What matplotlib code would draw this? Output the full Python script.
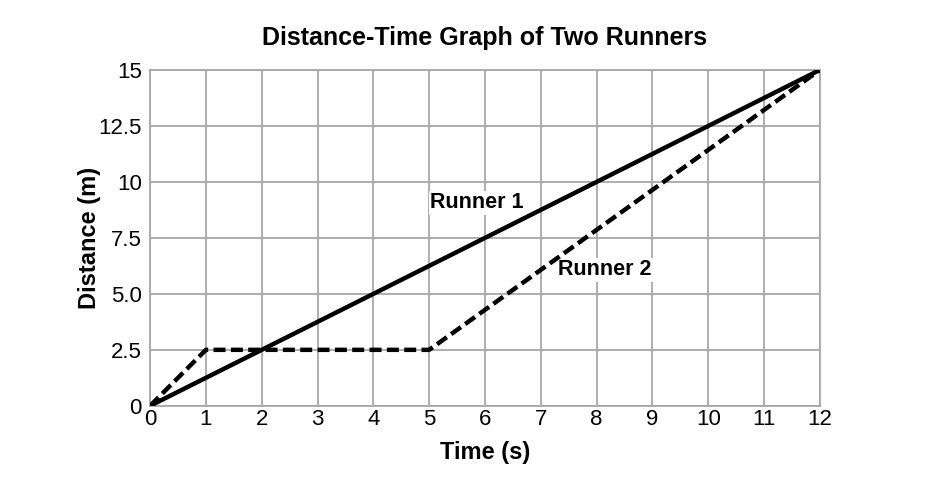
import matplotlib.pyplot as plt

plt.rcParams["font.family"] = ["Liberation Sans", "DejaVu Sans"]

# data
runner1_t = [0, 12]
runner1_d = [0, 15]
runner2_t = [0, 1, 5, 12]
runner2_d = [0, 2.5, 2.5, 15]

x_ticks = list(range(0, 13))
y_ticks = [0, 2.5, 5, 7.5, 10, 12.5, 15]
y_labels = ["0", "2.5", "5.0", "7.5", "10", "12.5", "15"]

fig = plt.figure(figsize=(9.5, 4.86), dpi=100)
ax = fig.add_axes([0.158, 0.165, 0.705, 0.691])

ax.plot(runner1_t, runner1_d, color="black", lw=3.2, solid_capstyle="round", zorder=3)
ax.plot(runner2_t, runner2_d, color="black", lw=3.2, ls=(0, (2.7, 1.2)), zorder=3)

ax.set_xlim(0, 12)
ax.set_ylim(0, 15)
ax.set_xticks(x_ticks)
ax.set_yticks(y_ticks)
ax.set_yticklabels(y_labels)
ax.tick_params(length=0, labelsize=16)
ax.tick_params(axis="x", pad=2)
ax.tick_params(axis="y", pad=6)
ax.grid(True, color="#a8a8a8", lw=1.3)
for s in ax.spines.values():
    s.set_color("#a8a8a8")
    s.set_linewidth(1.3)
ax.set_axisbelow(True)

ax.set_xlabel("Time (s)", fontsize=17, fontweight="bold", labelpad=8)
ax.set_ylabel("Distance (m)", fontsize=17, fontweight="bold", labelpad=-2)
ax.set_title("Distance-Time Graph of Two Runners", fontsize=18, fontweight="bold", pad=18)

ax.text(5.86, 9.06, "Runner 1", fontsize=15.5, fontweight="bold", ha="center", va="center",
        bbox=dict(facecolor="white", edgecolor="none", pad=1), zorder=2)
ax.text(8.15, 6.07, "Runner 2", fontsize=15.5, fontweight="bold", ha="center", va="center",
        bbox=dict(facecolor="white", edgecolor="none", pad=1), zorder=2)

fig.savefig("out.png", dpi=100)
